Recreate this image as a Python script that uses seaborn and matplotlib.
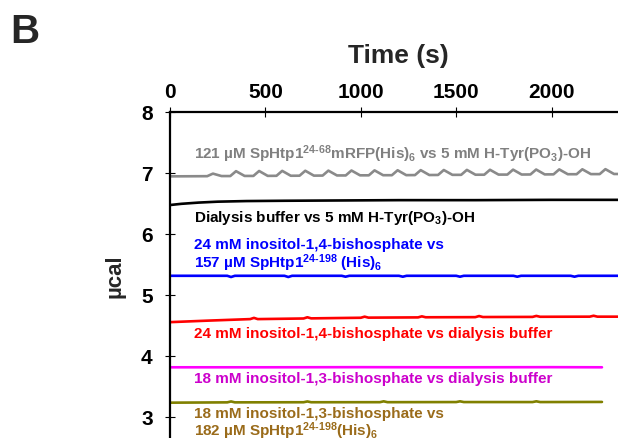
import numpy as np
import pandas as pd
import matplotlib
matplotlib.use("Agg")
import matplotlib.pyplot as plt
import seaborn as sns

# ---- ITC baseline traces (time in s, heat in µcal) ----
gray_time = [0, 195, 225, 270, 316, 346, 391, 437, 467, 512, 558, 588, 633, 679, 709, 754,
             800, 830, 875, 921, 951, 996, 1042, 1072, 1117, 1163, 1193, 1238, 1284, 1314,
             1359, 1405, 1435, 1480, 1526, 1556, 1601, 1647, 1677, 1722, 1768, 1798, 1843,
             1889, 1919, 1964, 2010, 2040, 2085, 2131, 2161, 2206, 2252, 2282, 2327, 2373,
             2403, 2448, 2500]
gray_ucal = [6.940, 6.943, 6.985, 6.945, 6.945, 7.025, 6.947, 6.947, 7.028, 6.948, 6.949,
             7.030, 6.950, 6.951, 7.032, 6.952, 6.953, 7.034, 6.955, 6.955, 7.036, 6.957,
             6.957, 7.038, 6.959, 6.959, 7.040, 6.960, 6.961, 7.042, 6.962, 6.963, 7.044,
             6.965, 6.965, 7.046, 6.967, 6.967, 7.048, 6.969, 6.969, 7.050, 6.970, 6.971,
             7.052, 6.972, 6.973, 7.054, 6.975, 6.975, 7.056, 6.977, 6.977, 7.058, 6.979,
             6.979, 7.060, 6.980, 6.980]

black_time = [0, 60, 150, 250, 400, 600, 900, 1200, 1600, 2000, 2500]
black_ucal = [6.47, 6.49, 6.51, 6.525, 6.535, 6.54, 6.545, 6.55, 6.55, 6.555, 6.555]

blue_time = [0, 300, 320, 340, 600, 620, 640, 900, 920, 940, 1200, 1220, 1240,
             1500, 1520, 1540, 1800, 1820, 1840, 2100, 2120, 2140, 2500]
blue_ucal = [5.31, 5.31, 5.29, 5.31, 5.31, 5.29, 5.31, 5.31, 5.295, 5.31, 5.31, 5.295, 5.31,
             5.31, 5.295, 5.31, 5.31, 5.295, 5.31, 5.31, 5.295, 5.31, 5.31]

red_time = [0, 200, 420, 440, 460, 700, 720, 740, 943, 1000, 1020, 1040, 1300, 1320, 1340,
            1600, 1620, 1640, 1900, 1920, 1940, 2200, 2220, 2240, 2500]
red_ucal = [4.55, 4.575, 4.60, 4.62, 4.60, 4.61, 4.63, 4.612, 4.62, 4.622, 4.64, 4.624,
            4.628, 4.645, 4.63, 4.632, 4.65, 4.634, 4.636, 4.652, 4.638, 4.64, 4.655, 4.64, 4.64]

magenta_time = [0, 500, 1000, 1500, 2000, 2264]
magenta_ucal = [3.81, 3.81, 3.812, 3.81, 3.812, 3.81]

olive_time = [0, 300, 320, 340, 700, 720, 740, 1100, 1120, 1140, 1500, 1520, 1540,
              1900, 1920, 1940, 2264]
olive_ucal = [3.23, 3.235, 3.25, 3.235, 3.237, 3.25, 3.237, 3.238, 3.252, 3.238,
              3.24, 3.252, 3.24, 3.24, 3.252, 3.24, 3.242]

trace_names = ["protein_vs_tyr", "buffer_vs_tyr", "ip14_vs_protein",
               "ip14_vs_buffer", "ip13_vs_buffer", "ip13_vs_protein"]
line_colors = ["#8a8a8a", "#000000", "#0000ff", "#ff0000", "#ff00ff", "#808000"]
text_colors = ["#808080", "#000000", "#0000ff", "#ff0000", "#cc00cc", "#9a6b1a"]

# ---- trace labels (lines of text, baseline height in µcal) ----
label_lines = [
    ["121 µM SpHtp1$^{24\\text{-}68}$mRFP(His)$_6$ vs 5 mM H-Tyr(PO$_3$)-OH"],
    ["Dialysis buffer vs 5 mM H-Tyr(PO$_3$)-OH"],
    ["24 mM inositol-1,4-bishosphate vs", "157 µM SpHtp1$^{24\\text{-}198}$ (His)$_6$"],
    ["24 mM inositol-1,4-bishosphate vs dialysis buffer"],
    ["18 mM inositol-1,3-bishosphate vs dialysis buffer"],
    ["18 mM inositol-1,3-bishosphate vs", "182 µM SpHtp1$^{24\\text{-}198}$(His)$_6$"],
]
label_y = [[7.236], [6.213], [5.76, 5.449], [4.30], [3.564], [2.99, 2.70]]
label_x = 127

x_ticks = [0, 500, 1000, 1500, 2000]
y_ticks = [3, 4, 5, 6, 7, 8]

traces = [(gray_time, gray_ucal), (black_time, black_ucal), (blue_time, blue_ucal),
          (red_time, red_ucal), (magenta_time, magenta_ucal), (olive_time, olive_ucal)]
df = pd.concat(
    [pd.DataFrame({"time": t, "ucal": v, "trace": name})
     for name, (t, v) in zip(trace_names, traces)],
    ignore_index=True,
)

sns.set_style("white")
plt.rcParams["font.family"] = ["Liberation Sans", "DejaVu Sans"]
plt.rcParams["font.weight"] = "bold"
plt.rcParams["mathtext.fontset"] = "custom"
plt.rcParams["mathtext.rm"] = "Liberation Sans:bold"
plt.rcParams["mathtext.it"] = "Liberation Sans:bold"
plt.rcParams["mathtext.bf"] = "Liberation Sans:bold"

fig = plt.figure(figsize=(6.18, 4.39), dpi=100)
ax = fig.add_axes([170 / 618, 1 - 478.7 / 439, 477 / 618, 366 / 439])

sns.lineplot(data=df, x="time", y="ucal", hue="trace", hue_order=trace_names,
             palette=dict(zip(trace_names, line_colors)), estimator=None, sort=False,
             legend=False, linewidth=1.9, ax=ax)

ax.set_xlim(0, 2500)
ax.set_ylim(2, 8)
ax.set_xticks(x_ticks)
ax.set_yticks(y_ticks)

for side in ["right", "bottom"]:
    ax.spines[side].set_visible(False)
for side in ["top", "left"]:
    ax.spines[side].set_color("black")
    ax.spines[side].set_linewidth(1.6)

ax.xaxis.tick_top()
ax.tick_params(axis="x", direction="inout", length=7, width=0.8, top=True, bottom=False,
               labeltop=True, labelbottom=False, labelsize=15, pad=4, colors="black")
ax.tick_params(axis="y", direction="inout", length=7, width=0.8, left=True, right=False,
               labelsize=15, pad=9, colors="black")
for lab in ax.get_xticklabels() + ax.get_yticklabels():
    lab.set_fontweight("bold")

ax.xaxis.set_label_position("top")
ax.set_xlabel("Time (s)", fontsize=19, fontweight="bold")
ax.xaxis.set_label_coords(0.478, 1.136)
ax.set_ylabel("µcal", fontsize=16, fontweight="bold")
ax.yaxis.set_label_coords(-0.094, 0.554)

for lines, ys, col in zip(label_lines, label_y, text_colors):
    for txt, y in zip(lines, ys):
        ax.text(label_x, y, txt, color=col, fontsize=11, fontweight="bold",
                ha="left", va="baseline")

fig.text(10 / 618, 1 - 43 / 439, "B", fontsize=29, fontweight="bold",
         ha="left", va="baseline")

fig.savefig("out.png", dpi=100)
